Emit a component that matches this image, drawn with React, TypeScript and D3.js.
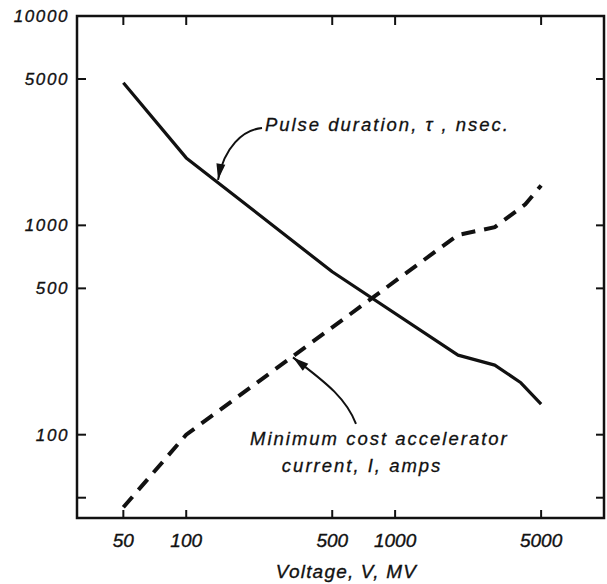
import { useEffect, useRef } from "react"
import * as d3 from "d3"

// pulse duration (nsec) vs voltage (MV)
const pulseVoltage = [50, 100, 500, 2000, 3000, 4000, 5000]
const pulseDuration = [4800, 2100, 600, 240, 215, 177, 140]

// minimum cost accelerator current (amps) vs voltage (MV)
const currentVoltage = [50, 100, 2000, 3000, 4200, 5000]
const currentAmps = [45, 100, 900, 980, 1260, 1550]

const xTicks = [50, 100, 500, 1000, 5000]
const xTickLabels = ["50", "100", "500", "1000", "5000"]
const yTicks = [5000, 1000, 500, 100, 50]
const yLabelValues = [10000, 5000, 1000, 500, 100]
const yTickLabels = ["10000", "5000", "1000", "500", "100"]

// annotation anchors, in data units [voltage, value]
const pulseArrow = [[230.6, 2918], [186.9, 2855], [151.6, 2367], [142, 1650]]
const pulseText = [238, 2823]
const currentArrow = [[649.7, 112.6], [575.4, 154.9], [432, 186.7], [324.4, 234]]
const currentText1 = [202, 89.4]
const currentText2 = [287, 66.4]

const W = 607
const H = 584
const FONT = "'Liberation Sans', Arial, Helvetica, sans-serif"

function Chart() {
	const ref = useRef<SVGSVGElement>(null)

	useEffect(() => {
		const svg = d3.select(ref.current)
		svg.selectAll("*").remove()

		const x = d3.scaleLog().domain([30, 10000]).range([77, 604])
		const y = d3.scaleLog().domain([40, 10000]).range([518, 16])
		const [x0, x1] = x.range()
		const [y1, y0] = y.range()

		svg.append("rect").attr("width", W).attr("height", H).attr("fill", "#fff")

		// frame
		svg
			.append("rect")
			.attr("x", x0)
			.attr("y", y0)
			.attr("width", x1 - x0)
			.attr("height", y1 - y0)
			.attr("fill", "none")
			.attr("stroke", "#111")
			.attr("stroke-width", 2.5)

		const ticks = svg.append("g").attr("stroke", "#111").attr("stroke-width", 2)
		yTicks.forEach((v) => {
			ticks.append("line").attr("x1", x0).attr("x2", x0 + 9).attr("y1", y(v)).attr("y2", y(v))
			ticks.append("line").attr("x1", x1 - 8).attr("x2", x1).attr("y1", y(v)).attr("y2", y(v))
		})
		xTicks.forEach((v) => {
			ticks.append("line").attr("x1", x(v)).attr("x2", x(v)).attr("y1", y0).attr("y2", y0 + 9)
			ticks.append("line").attr("x1", x(v)).attr("x2", x(v)).attr("y1", y1 - 8).attr("y2", y1)
		})

		// tick labels
		svg
			.append("g")
			.selectAll("text")
			.data(yLabelValues)
			.enter()
			.append("text")
			.attr("x", 69)
			.attr("y", (d) => y(d))
			.attr("dy", "0.36em")
			.attr("text-anchor", "end")
			.attr("font-family", FONT)
			.attr("font-style", "italic")
			.attr("font-size", 17)
			.attr("letter-spacing", 1.6)
			.attr("fill", "#111")
			.attr("stroke", "#111")
			.attr("stroke-width", 0.35)
			.text((d, i) => yTickLabels[i])

		svg
			.append("g")
			.selectAll("text")
			.data(xTicks)
			.enter()
			.append("text")
			.attr("x", (d) => x(d))
			.attr("y", 547)
			.attr("text-anchor", "middle")
			.attr("font-family", FONT)
			.attr("font-style", "italic")
			.attr("font-size", 19)
			.attr("fill", "#111")
			.attr("stroke", "#111")
			.attr("stroke-width", 0.35)
			.text((d, i) => xTickLabels[i])

		svg
			.append("text")
			.attr("x", (x0 + x1) / 2 + 6)
			.attr("y", 578)
			.attr("text-anchor", "middle")
			.attr("font-family", FONT)
			.attr("font-style", "italic")
			.attr("font-size", 19)
			.attr("letter-spacing", 1.2)
			.attr("fill", "#111")
			.attr("stroke", "#111")
			.attr("stroke-width", 0.35)
			.text("Voltage, V, MV")

		// curves
		const line = d3
			.line<number>()
			.x((d) => x(d))
			.curve(d3.curveLinear)

		svg
			.append("path")
			.attr("d", line.y((d, i) => y(pulseDuration[i]))(pulseVoltage))
			.attr("fill", "none")
			.attr("stroke", "#111")
			.attr("stroke-width", 3.2)
			.attr("stroke-linejoin", "round")

		svg
			.append("path")
			.attr("d", line.y((d, i) => y(currentAmps[i]))(currentVoltage))
			.attr("fill", "none")
			.attr("stroke", "#111")
			.attr("stroke-width", 4)
			.attr("stroke-dasharray", "14 9")

		// annotation arrows
		const drawArrow = (pts: number[][]) => {
			const p = pts.map((d) => [x(d[0]), y(d[1])])
			const path = d3.path()
			path.moveTo(p[0][0], p[0][1])
			path.bezierCurveTo(p[1][0], p[1][1], p[2][0], p[2][1], p[3][0], p[3][1])
			svg
				.append("path")
				.attr("d", path.toString())
				.attr("fill", "none")
				.attr("stroke", "#111")
				.attr("stroke-width", 2)

			const tip = p[3]
			const dx = tip[0] - p[2][0]
			const dy = tip[1] - p[2][1]
			const len = Math.hypot(dx, dy)
			const ux = dx / len
			const uy = dy / len
			const bx = tip[0] - ux * 16
			const by = tip[1] - uy * 16
			svg
				.append("path")
				.attr(
					"d",
					`M${tip[0]},${tip[1]}L${bx - uy * 4.5},${by + ux * 4.5}L${bx + uy * 4.5},${by - ux * 4.5}Z`
				)
				.attr("fill", "#111")
		}
		drawArrow(pulseArrow)
		drawArrow(currentArrow)

		const label = (pos: number[], txt: string) =>
			svg
				.append("text")
				.attr("x", x(pos[0]))
				.attr("y", y(pos[1]))
				.attr("font-family", FONT)
				.attr("font-style", "italic")
				.attr("font-size", 18.5)
				.attr("letter-spacing", 2)
				.attr("fill", "#111")
				.attr("stroke", "#111")
				.attr("stroke-width", 0.3)
				.text(txt)

		label(pulseText, "Pulse duration, τ , nsec.")
		label(currentText1, "Minimum cost accelerator")
		label(currentText2, "current, I, amps")
	}, [])

	return (
		<svg
			ref={ref}
			width={W}
			height={H}
			style={{ position: "absolute", left: 0, top: 0, display: "block" }}
		></svg>
	)
}

export default function App() {
	return <Chart />
}
